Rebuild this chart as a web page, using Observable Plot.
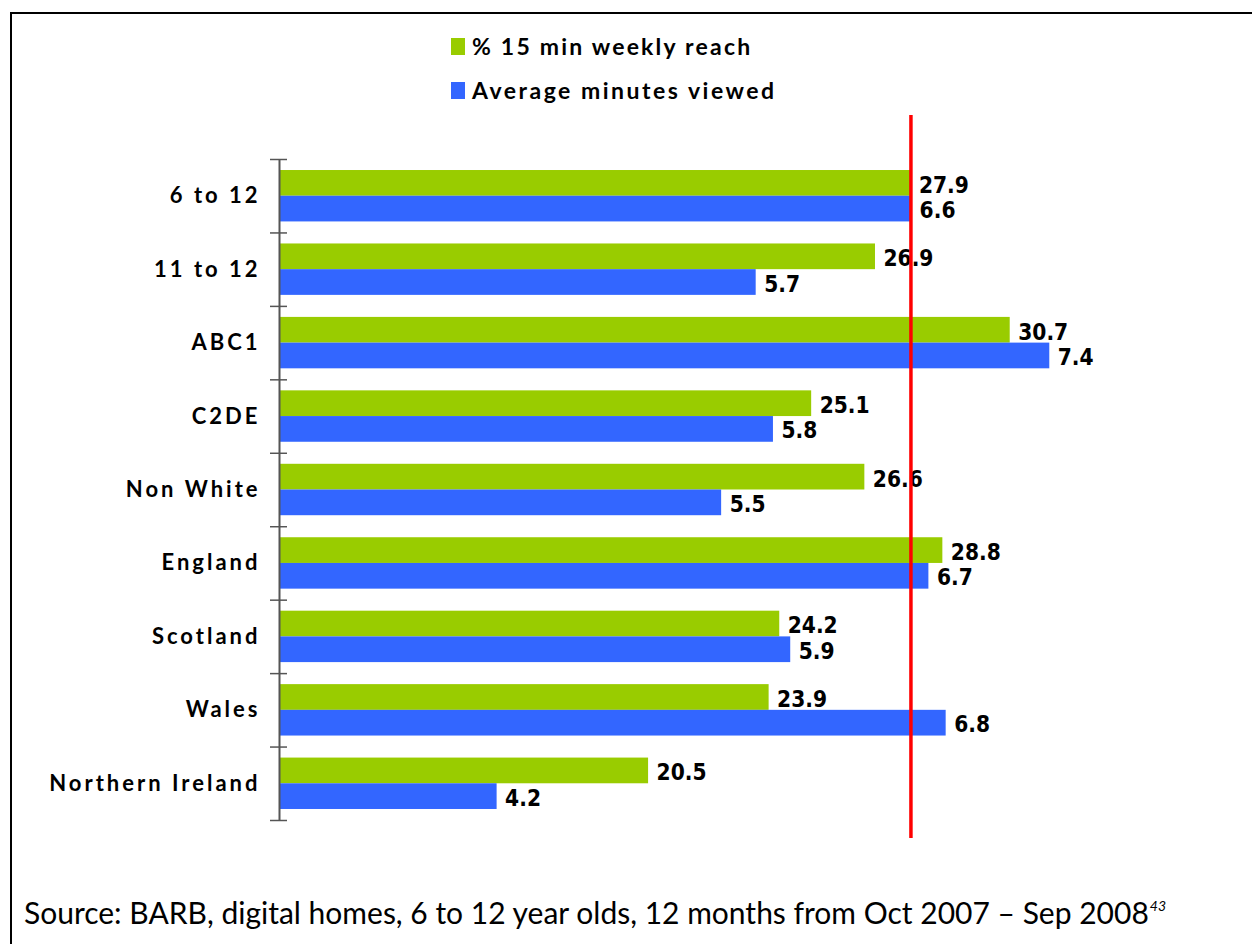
<!DOCTYPE html>
<html>
<head>
<meta charset="utf-8">
<script src="https://cdn.jsdelivr.net/npm/d3@7"></script>
<script src="https://cdn.jsdelivr.net/npm/@observablehq/plot@0.6"></script>
<style>
  html, body { margin: 0; padding: 0; background: #fff; }
  body { width: 1252px; height: 944px; overflow: hidden; position: relative; }
  #frame { position: absolute; left: 10px; top: 12px; width: 1250px; height: 940px;
           border-top: 2px solid #000; border-left: 2px solid #000; pointer-events: none; }
  #legend { position: relative; height: 110px; }
  .item { position: absolute; left: 451px; height: 24px; display: flex; align-items: center;
          font-family: Lato, sans-serif; font-weight: 700; font-size: 23px; color: #000; white-space: nowrap; }
  .sw { width: 14px; height: 17px; margin-right: 7px; }
  #chart svg { display: block; }
  #caption { position: relative; height: 94px; }
  #caption span.t { position: absolute; left: 24px; top: 47px; font-family: Lato, sans-serif; font-size: 30px; color: #000; white-space: nowrap; line-height: 30px; }
  #caption sup { font-size: 14px; font-style: italic; vertical-align: 0; position: relative; top: -13px; margin-left: 1px; }
</style>
</head>
<body>
<div id="legend"></div>
<div id="chart"></div>
<div id="caption"><span class="t">Source: BARB, digital homes, 6 to 12 year olds, 12 months from Oct 2007 – Sep 2008<sup>43</sup></span></div>
<div id="frame"></div>
<script>
// ---- data ----
const categories = ["6 to 12", "11 to 12", "ABC1", "C2DE", "Non White", "England", "Scotland", "Wales", "Northern Ireland"];
const reach   = [27.9, 26.9, 30.7, 25.1, 26.6, 28.8, 24.2, 23.9, 20.5];   // % 15 min weekly reach
const minutes = [6.6, 5.7, 7.4, 5.8, 5.5, 6.7, 5.9, 6.8, 4.2];            // Average minutes viewed
const seriesNames = ["% 15 min weekly reach", "Average minutes viewed"];
const seriesColors = ["#99cc00", "#3366ff"];
// axis extents (primary axis for reach, secondary axis for minutes)
const reachAxis = [10.09, 35.08];
const minutesAxis = [2.94, 8.07];

// ---- build ----
const rows = categories.map((c, i) => ({cat: c, i, reach: reach[i], minutes: minutes[i]}));
const boundaries = categories.map((c, i) => i).concat([categories.length]);
const rx = d3.scaleLinear().domain(reachAxis).range([0, 1]);
const mx = d3.scaleLinear().domain(minutesAxis).range([0, 1]);

// legend
const legend = document.getElementById("legend");
const spacing = [2.2, 2.5];
seriesNames.forEach((name, k) => {
  const it = document.createElement("div");
  it.className = "item";
  it.style.top = (34 + k * 44) + "px";
  it.innerHTML = `<div class="sw" style="background:${seriesColors[k]}"></div><span style="letter-spacing:${spacing[k]}px">${name}</span>`;
  legend.appendChild(it);
});

const valueFont = "'DejaVu Sans Condensed', 'DejaVu Sans', sans-serif";

const chart = Plot.plot({
  width: 1252,
  height: 740,
  marginLeft: 279,
  marginRight: 87,
  marginTop: 5,
  marginBottom: 12,
  x: {domain: [0, 1], axis: null},
  y: {domain: [0, categories.length], range: [49, 710], axis: null},
  marks: [
    Plot.rectX(rows, {x1: 0, x2: d => rx(d.reach), y1: d => d.i + 0.15, y2: d => d.i + 0.5, fill: seriesColors[0]}),
    Plot.rectX(rows, {x1: 0, x2: d => mx(d.minutes), y1: d => d.i + 0.5, y2: d => d.i + 0.85, fill: seriesColors[1]}),
    // axis line
    Plot.ruleX([0], {x: d => d, y1: 0, y2: categories.length, stroke: "#555", strokeWidth: 2}),
    // tick marks crossing the axis
    Plot.ruleY(boundaries, {y: d => d, x1: 0, x2: 0, insetLeft: -9, insetRight: -8, stroke: "#555", strokeWidth: 1.5}),
    // category labels
    Plot.text(rows, {x: 0, y: d => d.i + 0.5, text: "cat", textAnchor: "end", dx: -19,
      fontFamily: "Lato, sans-serif", fontWeight: 700, fontSize: 22, fill: "#000"}),
    // value labels
    Plot.text(rows, {x: d => rx(d.reach), y: d => d.i + 0.355, text: d => d.reach.toFixed(1), textAnchor: "start", dx: 8,
      fontFamily: valueFont, fontWeight: 700, fontSize: 22.5, fill: "#000"}),
    Plot.text(rows, {x: d => mx(d.minutes), y: d => d.i + 0.7, text: d => d.minutes.toFixed(1), textAnchor: "start", dx: 8,
      fontFamily: valueFont, fontWeight: 700, fontSize: 22.5, fill: "#000"}),
    // reference line at the all-children average
    Plot.ruleX([reach[0]], {x: d => rx(d), stroke: "#ff0000", strokeWidth: 3.5})
  ]
});
// widen the tracking of the category labels (first text mark)
d3.select(chart).selectAll('g[aria-label="text"]').filter((d, i) => i === 0)
  .selectAll("text").style("letter-spacing", "3px");
document.getElementById("chart").appendChild(chart);
</script>
</body>
</html>
